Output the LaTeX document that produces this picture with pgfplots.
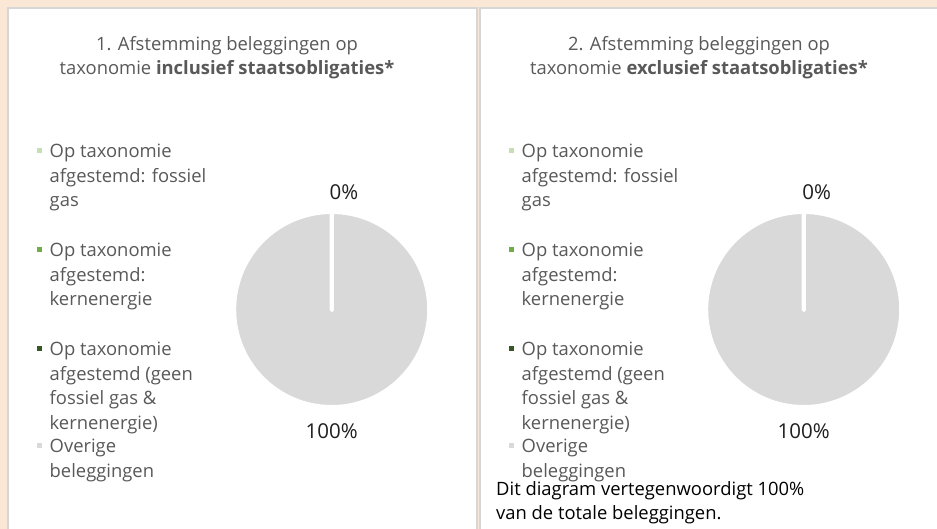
\documentclass[border=0pt]{standalone}
\usepackage{pgfplots}
\pgfplotsset{compat=1.18}
\usepackage{pgfplotstable}
\usepackage{fontspec}
\setmainfont{Open Sans}

\definecolor{bg}{HTML}{FBE7D6}
\definecolor{panelline}{HTML}{D6D6D6}
\definecolor{txt}{HTML}{595959}
\definecolor{pct}{HTML}{1F1F1F}
\definecolor{fossiel}{HTML}{C5E0B4}
\definecolor{kern}{HTML}{70AD47}
\definecolor{geen}{HTML}{375623}
\definecolor{overig}{HTML}{D9D9D9}

\newcommand\lf{\fontsize{18.4bp}{24.6bp}\selectfont}
\newcommand\pf{\fontsize{20.5bp}{24bp}\selectfont}

% shares (%) per slice: fossiel gas, kernenergie, geen fossiel gas & kernenergie, overige
\pgfplotstableread{
share
0
0
0
100
}\pieA
\pgfplotstableread{
share
0
0
0
100
}\pieB

\pgfplotstablegetelem{0}{share}\of\pieA\edef\Aa{\pgfplotsretval}
\pgfplotstablegetelem{1}{share}\of\pieA\edef\Ab{\pgfplotsretval}
\pgfplotstablegetelem{2}{share}\of\pieA\edef\Ac{\pgfplotsretval}
\pgfplotstablegetelem{3}{share}\of\pieA\edef\Ad{\pgfplotsretval}
\pgfplotstablegetelem{0}{share}\of\pieB\edef\Ba{\pgfplotsretval}
\pgfplotstablegetelem{1}{share}\of\pieB\edef\Bb{\pgfplotsretval}
\pgfplotstablegetelem{2}{share}\of\pieB\edef\Bc{\pgfplotsretval}
\pgfplotstablegetelem{3}{share}\of\pieB\edef\Bd{\pgfplotsretval}

% #1 start (cumulative share), #2 share, #3 colour
\newcommand\slice[3]{%
  \fill[#3, draw=white, line width=4bp, line join=round, line cap=round]
    (axis cs:0,0) -- (axis cs:{cos(90-3.6*(#1))},{sin(90-3.6*(#1))})
    arc[start angle={90-3.6*(#1)}, delta angle={-3.6*(#2)}, radius=97.5bp] -- cycle;}

\newcommand\legline[3]{\node[anchor=base west, inner sep=0pt, text=txt, font=\lf] at ({#1+49.5},-#2) {#3};}
\newcommand\legmark[3]{\fill[#3] ({#1+37},{-#2+4.5}) rectangle ({#1+42},{-#2+9.5});}

\newcommand\drawlegend[1]{%
  \legmark{#1}{157.5}{fossiel}
  \legline{#1}{157.5}{Op taxonomie}
  \legline{#1}{182.1}{afgestemd: fossiel}
  \legline{#1}{206.7}{gas}
  \legmark{#1}{256.5}{kern}
  \legline{#1}{256.5}{Op taxonomie}
  \legline{#1}{281.1}{afgestemd:}
  \legline{#1}{305.7}{kernenergie}
  \legmark{#1}{355.5}{geen}
  \legline{#1}{355.5}{Op taxonomie}
  \legline{#1}{380.1}{afgestemd (geen}
  \legline{#1}{404.7}{fossiel gas \&}
  \legline{#1}{429.3}{kernenergie)}
  \legmark{#1}{452.5}{overig}
  \legline{#1}{452.5}{Overige}
  \legline{#1}{477.1}{beleggingen}
}

\begin{document}
\begin{tikzpicture}[x=1bp,y=1bp]
\useasboundingbox (0,0) rectangle (937,-529);
\begin{scope}
\clip (0,0) rectangle (937,-529);
\fill[bg] (0,0) rectangle (937,-529);
\filldraw[fill=white, draw=panelline, line width=1.8bp] (8,-8.3) rectangle (476.7,-545);
\filldraw[fill=white, draw=panelline, line width=1.8bp] (480.3,-8.3) rectangle (955,-545);

% titles
\node[anchor=base, font=\lf, text=txt] at (227,-51) {1. Afstemming beleggingen op};
\node[anchor=base, font=\lf, text=txt] at (227,-74.5) {taxonomie \textbf{inclusief staatsobligaties*}};
\node[anchor=base, font=\lf, text=txt] at (699,-51) {2. Afstemming beleggingen op};
\node[anchor=base, font=\lf, text=txt] at (699,-74.5) {taxonomie \textbf{exclusief staatsobligaties*}};

% legends
\drawlegend{0}
\drawlegend{472}

% pie 1
\begin{axis}[at={(331.7bp,-309.5bp)}, anchor=center, width=195bp, height=195bp,
  scale only axis, hide axis, xmin=-1, xmax=1, ymin=-1, ymax=1, clip=false]
  \slice{\Aa+\Ab+\Ac}{\Ad}{overig}
  \slice{0}{\Aa}{fossiel}
  \slice{\Aa}{\Ab}{kern}
  \slice{\Aa+\Ab}{\Ac}{geen}
  \node[anchor=base, font=\pf, text=pct, inner sep=0pt] at (axis cs:0.126,1.133) {0\%};
  \node[anchor=base, font=\pf, text=pct, inner sep=0pt] at (axis cs:0,-1.328) {100\%};
\end{axis}

% pie 2
\begin{axis}[at={(803.7bp,-309.5bp)}, anchor=center, width=195bp, height=195bp,
  scale only axis, hide axis, xmin=-1, xmax=1, ymin=-1, ymax=1, clip=false]
  \slice{\Ba+\Bb+\Bc}{\Bd}{overig}
  \slice{0}{\Ba}{fossiel}
  \slice{\Ba}{\Bb}{kern}
  \slice{\Ba+\Bb}{\Bc}{geen}
  \node[anchor=base, font=\pf, text=pct, inner sep=0pt] at (axis cs:0.133,1.133) {0\%};
  \node[anchor=base, font=\pf, text=pct, inner sep=0pt] at (axis cs:0,-1.328) {100\%};
\end{axis}

% footnote
\node[anchor=base west, inner sep=0pt, font=\lf, text=black] at (496,-495) {Dit diagram vertegenwoordigt 100\%};
\node[anchor=base west, inner sep=0pt, font=\lf, text=black] at (496,-519.5) {van de totale beleggingen.};
\end{scope}
\end{tikzpicture}
\end{document}
